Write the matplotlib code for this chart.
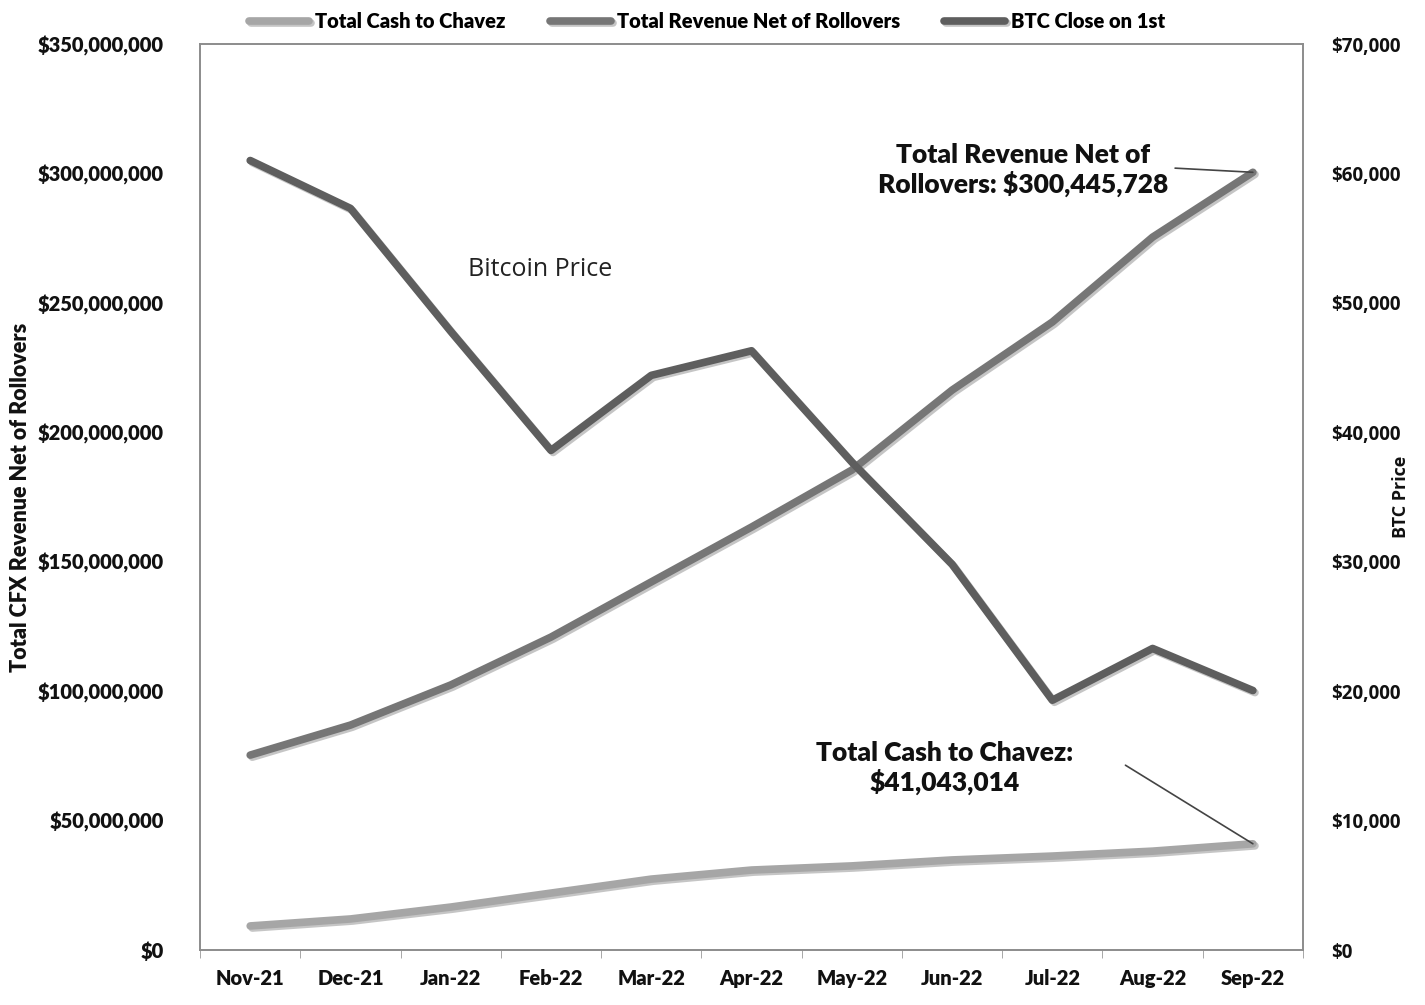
import numpy as np
import matplotlib
matplotlib.use("Agg")
import matplotlib.pyplot as plt
import matplotlib.patheffects as pe
from matplotlib.ticker import FuncFormatter

months = ["Nov-21", "Dec-21", "Jan-22", "Feb-22", "Mar-22", "Apr-22",
          "May-22", "Jun-22", "Jul-22", "Aug-22", "Sep-22"]
cash_to_chavez = [9.3e6, 12.0e6, 16.6e6, 22.0e6, 27.4e6, 30.9e6,
                  32.5e6, 34.8e6, 36.3e6, 38.2e6, 41.043014e6]
revenue_net = [75.3e6, 86.9e6, 102.4e6, 120.9e6, 142.2e6, 163.4e6,
               185.4e6, 216.3e6, 242.6e6, 275.4e6, 300.445728e6]
btc_close = [61000, 57300, 47800, 38600, 44400, 46300,
             37700, 29800, 19300, 23300, 20050]

FONT = ["Lato", "DejaVu Sans"]
plt.rcParams["font.family"] = FONT

fig = plt.figure(figsize=(14.25, 10.05), dpi=100)
ax = fig.add_axes([0.1404, 0.0547, 0.774, 0.9015])
ax2 = ax.twinx()

x = np.arange(len(months))
shadow = [pe.SimpleLineShadow(offset=(1.5, -1.5), shadow_color="0.55", alpha=0.5), pe.Normal()]

l_cash, = ax.plot(x, cash_to_chavez, color="#a6a6a6", lw=5.5, solid_capstyle="round",
                  label="Total Cash to Chavez", path_effects=shadow, zorder=3)
l_rev, = ax.plot(x, revenue_net, color="#767676", lw=5.5, solid_capstyle="round",
                 label="Total Revenue Net of Rollovers", path_effects=shadow, zorder=3)
l_btc, = ax2.plot(x, btc_close, color="#5e5e5e", lw=5.5, solid_capstyle="round",
                  label="BTC Close on 1st", path_effects=shadow, zorder=3)

ax.set_xlim(-0.5, len(months) - 0.5)
ax.set_ylim(0, 350e6)
ax2.set_ylim(0, 70000)
ax.set_yticks(np.arange(0, 350e6 + 1, 50e6))
ax2.set_yticks(np.arange(0, 70001, 10000))
ax.yaxis.set_major_formatter(FuncFormatter(lambda v, p: f"${v:,.0f}"))
ax2.yaxis.set_major_formatter(FuncFormatter(lambda v, p: f"${v:,.0f}"))

ax.set_xticks(x)
ax.set_xticklabels(months)
ax.set_xticks(np.arange(-0.5, len(months), 1), minor=True)
ax.tick_params(axis="x", which="major", length=0, pad=14, labelsize=14.5, colors="#111111")
ax.tick_params(axis="x", which="minor", length=6, direction="out", color="#999999")
ax.tick_params(axis="y", length=0, pad=26, labelsize=14.5, colors="#111111")
ax2.tick_params(axis="y", length=0, pad=20, labelsize=13.5, colors="#111111")
for lab in ax.get_xticklabels() + ax.get_yticklabels():
    lab.set_fontweight("heavy")
for lab in ax2.get_yticklabels():
    lab.set_fontweight("bold")
    lab.set_family(["Open Sans", "DejaVu Sans"])

for a in (ax, ax2):
    for s in a.spines.values():
        s.set_color("#8c8c8c")
        s.set_linewidth(1.2)

ax.set_ylabel("Total CFX Revenue Net of Rollovers", fontsize=15.5, fontweight="heavy", color="#111111")
ax.yaxis.set_label_coords(-0.153, 0.5)
ax2.set_ylabel("BTC Price", fontsize=13, fontweight="bold", color="#111111",
               family=["Open Sans", "DejaVu Sans"])
ax2.yaxis.set_label_coords(1.081, 0.5)

# annotations
last = len(months) - 1
ax.text(0.746, 0.861, "Total Revenue Net of\nRollovers: $300,445,728", transform=ax.transAxes,
        ha="center", va="center", fontsize=19, fontweight="heavy", color="#111111", linespacing=1.15)
ax.annotate("", xy=(last, revenue_net[-1]), xytext=(0.884, 0.863), textcoords="axes fraction",
            arrowprops=dict(arrowstyle="-", color="#444444", lw=1.2, shrinkA=0, shrinkB=0))
ax.text(0.675, 0.201, "Total Cash to Chavez:\n$41,043,014", transform=ax.transAxes,
        ha="center", va="center", fontsize=19, fontweight="heavy", color="#111111", linespacing=1.15)
ax.annotate("", xy=(last, cash_to_chavez[-1]), xytext=(0.839, 0.204), textcoords="axes fraction",
            arrowprops=dict(arrowstyle="-", color="#444444", lw=1.2, shrinkA=0, shrinkB=0))
ax.text(0.308, 0.751, "Bitcoin Price", transform=ax.transAxes, ha="center", va="center",
        fontsize=18, color="#222222", family=["Open Sans", "DejaVu Sans"])

fig.legend(handles=[l_cash, l_rev, l_btc], loc="center", bbox_to_anchor=(0.496, 0.979),
           ncol=3, frameon=False, handlelength=3.0, handletextpad=0.3, columnspacing=2.2,
           prop=dict(family=FONT, weight="heavy", size=14.5))

fig.savefig("out.png", dpi=100)
